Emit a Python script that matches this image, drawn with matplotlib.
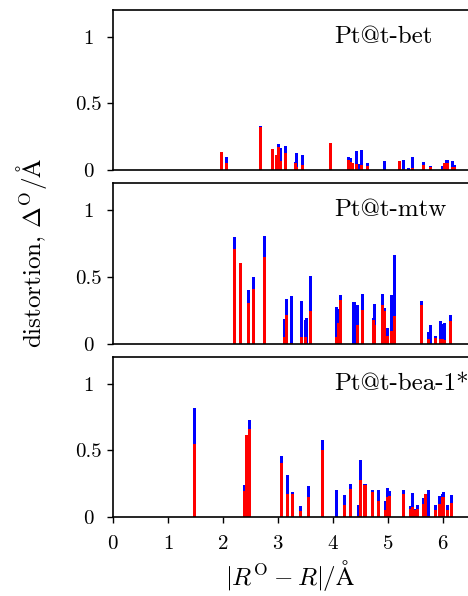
import numpy as np
import matplotlib
matplotlib.use("Agg")
import matplotlib.pyplot as plt

plt.rcParams["font.family"] = "serif"
plt.rcParams["font.serif"] = ["cmr10", "DejaVu Serif"]
plt.rcParams["mathtext.fontset"] = "cm"
plt.rcParams["axes.formatter.use_mathtext"] = True
plt.rcParams["axes.linewidth"] = 1.2

COLOR_BLUE = "#0000ff"
COLOR_RED = "#ff0000"
TICK_FONT_SIZE = 15
LABEL_FONT_SIZE = 18

# panel 1: Pt@t-bet
bet_r = [1.98, 2.07, 2.68, 2.89, 2.97, 3.00, 3.05, 3.13, 3.31, 3.34, 3.45, 3.96,
         4.28, 4.31, 4.36, 4.42, 4.46, 4.52, 4.63, 4.94, 5.20, 5.28, 5.37, 5.45,
         5.64, 5.77, 5.99, 6.03, 6.07, 6.17, 6.20]
bet_blue = [0.135, 0.095, 0.33, 0.158, 0.11, 0.195, 0.168, 0.177, 0.06, 0.128, 0.115, 0.203,
            0.098, 0.09, 0.055, 0.14, 0.045, 0.15, 0.053, 0.065, 0.068, 0.072, 0.015, 0.10,
            0.057, 0.028, 0.028, 0.035, 0.077, 0.068, 0.04]
bet_red = [0.135, 0.053, 0.32, 0.158, 0.11, 0.173, 0.065, 0.128, 0.05, 0.02, 0.04, 0.203,
           0.072, 0.06, 0.055, 0.045, 0.0, 0.04, 0.03, 0.0, 0.065, 0.01, 0.0, 0.015,
           0.04, 0.02, 0.01, 0.053, 0.053, 0.02, 0.02]

# panel 2: Pt@t-mtw
mtw_r = [2.20, 2.32, 2.46, 2.56, 2.75, 3.11, 3.15, 3.25, 3.42, 3.49, 3.52, 3.59,
         4.07, 4.10, 4.13, 4.38, 4.44, 4.53, 4.73, 4.76, 4.89, 4.93, 4.98, 5.07,
         5.11, 5.61, 5.73, 5.77, 5.86, 5.96, 5.99, 6.02, 6.14]
mtw_blue = [0.797, 0.605, 0.406, 0.50, 0.804, 0.188, 0.333, 0.356, 0.32, 0.18, 0.195, 0.504,
            0.278, 0.26, 0.368, 0.316, 0.288, 0.376, 0.195, 0.295, 0.376, 0.27, 0.117, 0.368,
            0.664, 0.32, 0.092, 0.143, 0.057, 0.173, 0.147, 0.158, 0.218]
mtw_red = [0.709, 0.601, 0.308, 0.413, 0.649, 0.05, 0.213, 0.01, 0.055, 0.055, 0.01, 0.243,
           0.055, 0.158, 0.326, 0.0, 0.143, 0.25, 0.18, 0.145, 0.288, 0.245, 0.063, 0.10,
           0.207, 0.288, 0.04, 0.0, 0.045, 0.04, 0.04, 0.03, 0.175]

# panel 3: Pt@t-bea-1*
bea_r = [1.48, 2.39, 2.42, 2.48, 3.06, 3.18, 3.26, 3.41, 3.56, 3.81,
         4.06, 4.21, 4.32, 4.47, 4.50, 4.58, 4.71, 4.83, 4.95, 4.98, 5.03, 5.28,
         5.40, 5.45, 5.49, 5.54, 5.65, 5.68, 5.73, 5.86, 5.93, 5.99, 6.01, 6.08, 6.16]
bea_blue = [0.817, 0.24, 0.617, 0.73, 0.456, 0.316, 0.188, 0.083, 0.23, 0.577,
            0.20, 0.163, 0.246, 0.088, 0.426, 0.246, 0.206, 0.20, 0.118, 0.221, 0.193, 0.206,
            0.08, 0.178, 0.06, 0.088, 0.143, 0.176, 0.206, 0.088, 0.158, 0.17, 0.19, 0.088, 0.163]
bea_red = [0.546, 0.195, 0.617, 0.662, 0.406, 0.17, 0.17, 0.045, 0.15, 0.503,
           0.0, 0.088, 0.213, 0.01, 0.276, 0.238, 0.188, 0.123, 0.05, 0.148, 0.156, 0.17,
           0.06, 0.075, 0.05, 0.06, 0.095, 0.17, 0.01, 0.05, 0.10, 0.148, 0.148, 0.05, 0.105]

PANELS = [
    ("Pt@t-bet", bet_r, bet_blue, bet_red),
    ("Pt@t-mtw", mtw_r, mtw_blue, mtw_red),
    ("Pt@t-bea-1*", bea_r, bea_blue, bea_red),
]

W, H = 468, 596
fig = plt.figure(figsize=(W / 100, H / 100), dpi=100)

# (top, bottom) pixel rows of each panel
rows = [(10, 170), (183, 344), (357, 517)]
left_px = 113

for k, ((name, r, blue, red), (top, bot)) in enumerate(zip(PANELS, rows)):
    ax = fig.add_axes([left_px / W, 1 - bot / H, (W - left_px + 1) / W, (bot - top) / H])
    ax.bar(r, blue, width=0.055, color=COLOR_BLUE, lw=0)
    ax.bar(r, red, width=0.055, color=COLOR_RED, lw=0)
    ax.set_xlim(0, 6.47)
    ax.set_ylim(0, 1.2)
    ax.set_yticks([0, 0.5, 1])
    ax.set_yticklabels(["0", "0.5", "1"])
    for lab in ax.get_yticklabels():
        lab.set_horizontalalignment("center")
    ax.spines["right"].set_visible(False)
    ax.tick_params(axis="both", direction="out", length=4, width=1,
                   labelsize=TICK_FONT_SIZE, right=False, top=False)
    ax.tick_params(axis="y", pad=13.5)
    ax.tick_params(axis="x", pad=9)
    ax.text(0.62, 0.83, name, transform=ax.transAxes, ha="left", va="center",
            fontsize=LABEL_FONT_SIZE)
    if k < 2:
        ax.tick_params(axis="x", bottom=False, labelbottom=False)
    else:
        ax.set_xticks(range(7))

fig.text(0.068, 0.575, r"distortion, $\Delta^{\mathrm{O}}/\mathrm{\AA}$", rotation=90,
         ha="center", va="center", fontsize=LABEL_FONT_SIZE)
fig.text(0.62, 0.035, r"$|R^{\mathrm{O}} - R|/\mathrm{\AA}$", ha="center", va="center",
         fontsize=LABEL_FONT_SIZE)

fig.savefig("out.png", dpi=100)
